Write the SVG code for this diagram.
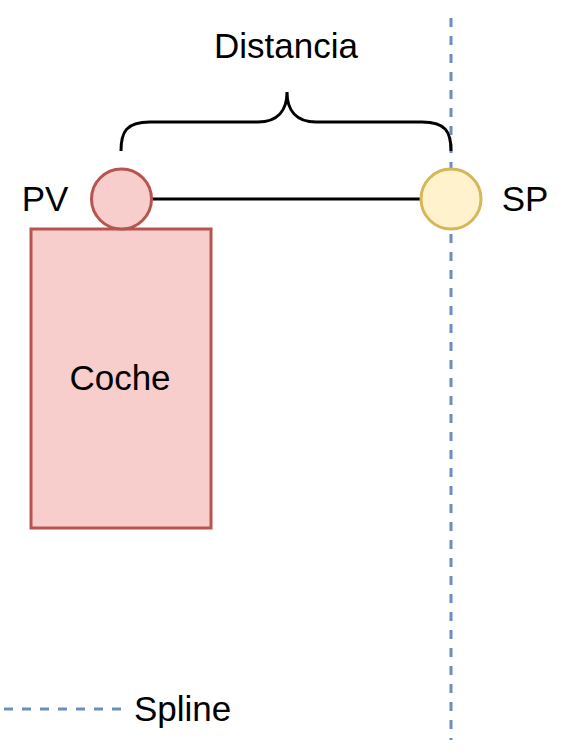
<svg xmlns="http://www.w3.org/2000/svg" width="573" height="756" viewBox="0 0 573 756">
<style>
text{font-family:"Liberation Sans",Arial,sans-serif;font-size:35px;fill:#000}
.dash{stroke:#6c8ebf;stroke-width:3;stroke-dasharray:9 9;fill:none}
.blk{stroke:#000;stroke-width:3;fill:none}
</style>
<rect width="573" height="756" fill="#fff"/>
<g id="spline">
<line class="dash" x1="451" y1="18" x2="451" y2="740"/>
</g>
<g id="legend">
<line class="dash" x1="4" y1="709" x2="122" y2="709"/>
<text x="134" y="721">Spline</text>
</g>
<g id="connectors">
<line class="blk" x1="152" y1="199" x2="421" y2="199"/>
<path class="blk" d="M121,151 C121,132 126,122 150,122 L258,122 C278,122 287,110 287,92 C287,110 296,122 316,122 L422,122 C446,122 451,132 451,151"/>
</g>
<g id="coche">
<rect x="31" y="229" width="180" height="299" fill="#f8cecc" stroke="#b85450" stroke-width="3"/>
<text x="120" y="390" text-anchor="middle">Coche</text>
</g>
<g id="pv">
<circle cx="121.5" cy="199" r="30" fill="#f8cecc" stroke="#b85450" stroke-width="3"/>
<text x="45" y="211" text-anchor="middle">PV</text>
</g>
<g id="sp">
<circle cx="451" cy="199" r="30" fill="#fff2cc" stroke="#d6b656" stroke-width="3"/>
<text x="525" y="211" text-anchor="middle">SP</text>
</g>
<g id="distancia">
<text x="286" y="58" text-anchor="middle">Distancia</text>
</g>
</svg>
